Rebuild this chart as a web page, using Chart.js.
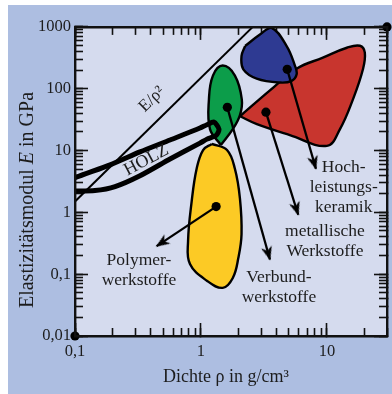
<!DOCTYPE html>
<html lang="de">
<head>
<meta charset="utf-8">
<title>Elastizitätsmodul über Dichte</title>
<script src="https://cdn.jsdelivr.net/npm/chart.js@4.4.1/dist/chart.umd.min.js"></script>
<style>
  html, body { margin: 0; padding: 0; background: #ffffff; }
  canvas { display: block; }
</style>
</head>
<body>
<canvas id="ashby" width="392" height="394"></canvas>
<script>
// Axis ranges and labelled ticks
const densityRange = [0.1, 30];
const modulusRange = [0.01, 1000];
const densityTicks = [0.1, 1, 10];
const densityTickLabels = ['0,1', '1', '10'];
const modulusTicks = [0.01, 0.1, 1, 10, 100, 1000];
const modulusTickLabels = ['0,01', '0,1', '1', '10', '100', '1000'];

// Material fields as closed outlines: [density in g/cm³, modulus in GPa]
const keramikField = [[2.24, 490], [2.94, 752], [3.64, 964], [4.79, 490], [5.57, 237], [5.75, 171],
  [5.25, 134], [4.24, 126], [2.77, 146], [2.17, 206], [2.10, 339], [2.24, 490]];
const metallField = [[2.04, 35.9], [3.53, 94], [5.78, 212], [9.29, 318], [14.4, 460], [18.3, 495],
  [20.0, 383], [19.3, 204], [16.1, 67.3], [12.7, 22.2], [10.0, 11.9], [5.08, 17.8], [2.78, 26.7], [2.04, 35.9]];
const verbundField = [[1.44, 12.3], [1.18, 22.2], [1.157, 67.3], [1.245, 163], [1.49, 237], [1.86, 163],
  [2.11, 67.3], [2.04, 37.3], [1.79, 22.2], [1.44, 12.3]];
const polymerField = [[1.22, 12.8], [1.61, 10.2], [1.86, 5.07], [2.04, 1.67], [2.10, 0.442], [1.98, 0.182],
  [1.79, 0.0869], [1.49, 0.0601], [1.12, 0.0778], [0.818, 0.146], [0.79, 0.341], [0.844, 1.50],
  [0.924, 5.07], [1.04, 10.2], [1.22, 12.8]];
// Wood: an open loop whose low-density end runs off the axis
const holzOutline = [[0.076, 2.81], [0.1, 3.63], [0.19, 5.87], [0.328, 9.5], [0.568, 14.8], [0.982, 23.1],
  [1.116, 26.2], [1.268, 28.8], [1.39, 22.2], [1.327, 17.8], [1.116, 15.3], [0.982, 13.2], [0.568, 7.3],
  [0.328, 3.91], [0.208, 2.61], [0.144, 2.25], [0.1, 2.21], [0.076, 2.21]];

// Representative point of each field and where its pointer ends
const keramikPointer = [[4.84, 206], [8.18, 5.07]];
const metallPointer = [[3.28, 41.7], [5.92, 0.915]];
const verbundPointer = [[1.62, 50], [3.53, 0.173]];
const polymerPointer = [[1.32, 1.24], [0.445, 0.284]];

// Guide line of constant E/ρ²
const guideLine = [[0.1, 1.5], [2.58, 1000]];

// Markers on two frame corners
const cornerMarks = [[0.1, 0.01], [30, 1000]];

const SERIF = '"Liberation Serif", "Times New Roman", serif';
const INK = '#1c1c1c';
const PANEL = '#adbee1';
const PLOT_BG = '#d5dbee';

// log sub-ticks 1..9 x 10^n inside a range
function logSubTicks(min, max) {
  const out = [];
  for (let e = Math.floor(Math.log10(min)); e <= Math.ceil(Math.log10(max)); e++) {
    for (let m = 1; m <= 9; m++) {
      const v = m * Math.pow(10, e);
      if (v >= min * 0.999 && v <= max * 1.001) out.push(v);
    }
  }
  return out;
}
const densityMinor = logSubTicks(densityRange[0], densityRange[1]);
const modulusMinor = logSubTicks(modulusRange[0], modulusRange[1]);

// Arrowhead sprite, tip at the sprite centre, pointing up
const ARROWHEAD = (() => {
  const c = document.createElement('canvas');
  c.width = 32; c.height = 32;
  const g = c.getContext('2d');
  g.fillStyle = '#000';
  g.beginPath();
  g.moveTo(16, 15);
  g.lineTo(21.5, 29);
  g.lineTo(16, 25);
  g.lineTo(10.5, 29);
  g.closePath();
  g.fill();
  return c;
})();

const pts = arr => arr.map(([x, y]) => ({ x, y }));

function field(label, outline, color, order) {
  return {
    label, data: pts(outline), order,
    borderColor: '#000', borderWidth: 2.4, borderJoinStyle: 'round',
    backgroundColor: color, fill: 'shape', tension: 0.4, pointRadius: 0
  };
}

function headRotation(ctx) {
  if (ctx.type !== 'data' || ctx.dataIndex !== 1) return 0;
  const xs = ctx.chart.scales.x, ys = ctx.chart.scales.y;
  const [a, b] = ctx.dataset.data;
  const dx = xs.getPixelForValue(b.x) - xs.getPixelForValue(a.x);
  const dy = ys.getPixelForValue(b.y) - ys.getPixelForValue(a.y);
  return Math.atan2(dx, -dy) * 180 / Math.PI;
}

function pointer(label, pair) {
  return {
    label, data: pts(pair), order: 0,
    borderColor: '#000', borderWidth: 2.3, fill: false, tension: 0,
    pointRadius: [4.6, 10], pointStyle: ['circle', ARROWHEAD],
    pointBackgroundColor: '#000', pointBorderWidth: 0,
    pointRotation: headRotation
  };
}

// Tick-only edge axes; sized ones sit outermost, zero-sized ones hug the plot
function edgeScale(axis, position, values, tickLen, size, weight, extra) {
  const horizontal = axis === 'x';
  const range = horizontal ? densityRange : modulusRange;
  return Object.assign({
    type: 'logarithmic', axis, position, weight,
    min: range[0], max: range[1],
    grid: { display: true, drawOnChartArea: false, drawTicks: true, tickLength: -tickLen,
            tickColor: '#111', tickWidth: 1.6 },
    border: { display: false },
    ticks: { display: false, autoSkip: false },
    afterBuildTicks: s => { s.ticks = values.map(v => ({ value: v })); },
    afterFit: s => { if (horizontal) s.height = size; else s.width = size; }
  }, extra || {});
}
const frame = { display: true, color: '#111', width: 2.4, z: 1 };
const tickFont = { family: SERIF, size: 16.5 };

const fieldLabels = [
  { lines: ['Hoch-', 'leistungs-', 'keramik'], at: [13.6, 4.54] },
  { lines: ['metallische', 'Werkstoffe'], at: [9.64, 0.41] },
  { lines: ['Verbund-', 'werkstoffe'], at: [4.16, 0.075] },
  { lines: ['Polymer-', 'werkstoffe'], at: [0.322, 0.141] }
];

const backdrop = {
  id: 'backdrop',
  beforeDraw(chart) {
    const { ctx, chartArea: a } = chart;
    ctx.save();
    ctx.fillStyle = '#ffffff';
    ctx.fillRect(0, 0, chart.width, chart.height);
    ctx.fillStyle = PANEL;
    ctx.fillRect(8, 5, chart.width - 8, chart.height - 5);
    ctx.fillStyle = PLOT_BG;
    ctx.fillRect(a.left, a.top, a.right - a.left, a.bottom - a.top);
    ctx.restore();
  }
};

const annotations = {
  id: 'annotations',
  afterDatasetsDraw(chart) {
    const { ctx } = chart;
    const xs = chart.scales.x, ys = chart.scales.y;
    ctx.save();
    ctx.fillStyle = INK;
    ctx.font = `17.5px ${SERIF}`;
    ctx.textAlign = 'center';
    ctx.textBaseline = 'alphabetic';
    for (const f of fieldLabels) {
      const px = xs.getPixelForValue(f.at[0]);
      const py = ys.getPixelForValue(f.at[1]);
      f.lines.forEach((t, i) => ctx.fillText(t, px, py + i * 20));
    }
    // guide line caption, parallel to the line
    const g0x = xs.getPixelForValue(guideLine[0][0]), g0y = ys.getPixelForValue(guideLine[0][1]);
    const g1x = xs.getPixelForValue(guideLine[1][0]), g1y = ys.getPixelForValue(guideLine[1][1]);
    const ang = Math.atan2(g1y - g0y, g1x - g0x);
    ctx.textBaseline = 'middle';
    ctx.save();
    ctx.translate(xs.getPixelForValue(0.408), ys.getPixelForValue(67.3));
    ctx.rotate(ang);
    ctx.font = `17px ${SERIF}`;
    ctx.fillText('E/ρ²', 0, 0);
    ctx.restore();
    ctx.save();
    ctx.translate(xs.getPixelForValue(0.369), ys.getPixelForValue(6.98));
    ctx.rotate(-28 * Math.PI / 180);
    ctx.font = `18px ${SERIF}`;
    ctx.fillText('HOLZ', 0, 0);
    ctx.restore();
    ctx.restore();
  },
  afterDraw(chart) {
    const { ctx } = chart;
    ctx.save();
    ctx.fillStyle = INK;
    ctx.textBaseline = 'middle';
    ctx.textAlign = 'center';
    ctx.font = `18px ${SERIF}`;
    ctx.fillText('Dichte ρ in g/cm³', 226, 377);
    // vertical title with italic symbol
    const parts = [['Elastizitätsmodul ', ''], ['E', 'italic '], [' in GPa', '']];
    const size = 20;
    let total = 0;
    for (const [t, s] of parts) { ctx.font = `${s}${size}px ${SERIF}`; total += ctx.measureText(t).width; }
    ctx.translate(28, 200);
    ctx.rotate(-Math.PI / 2);
    ctx.textAlign = 'left';
    let x = -total / 2;
    for (const [t, s] of parts) {
      ctx.font = `${s}${size}px ${SERIF}`;
      ctx.fillText(t, x, 0);
      x += ctx.measureText(t).width;
    }
    ctx.restore();
  }
};

new Chart(document.getElementById('ashby'), {
  type: 'line',
  data: {
    datasets: [
      pointer('Hochleistungskeramik', keramikPointer),
      pointer('metallische Werkstoffe', metallPointer),
      pointer('Verbundwerkstoffe', verbundPointer),
      pointer('Polymerwerkstoffe', polymerPointer),
      {
        label: 'Ecken', data: pts(cornerMarks), order: 0, showLine: false, clip: false,
        pointRadius: 4.6, pointBackgroundColor: '#000', pointBorderWidth: 0
      },
      {
        label: 'HOLZ', data: pts(holzOutline), order: 1, clip: 0,
        borderColor: '#000', borderWidth: 5, borderJoinStyle: 'round', fill: false,
        tension: 0.25, pointRadius: 0
      },
      {
        label: 'E/ρ²', data: pts(guideLine), order: 2, clip: 0,
        borderColor: '#000', borderWidth: 2, fill: false, tension: 0, pointRadius: 0
      },
      field('Hochleistungskeramik', keramikField, '#2e3a92', 3),
      field('Verbundwerkstoffe', verbundField, '#0c9d4a', 4),
      field('metallische Werkstoffe', metallField, '#c8352e', 5),
      field('Polymerwerkstoffe', polymerField, '#fcca25', 6)
    ]
  },
  options: {
    responsive: false,
    devicePixelRatio: 1,
    animation: false,
    events: [],
    layout: { padding: 0, autoPadding: false },
    plugins: { legend: { display: false }, tooltip: { enabled: false } },
    scales: {
      x: edgeScale('x', 'bottom', densityTicks, 13, 58, 1, {
        border: frame,
        ticks: { display: true, autoSkip: false, maxRotation: 0, padding: 19, color: INK, font: tickFont,
                 callback: (v, i) => densityTickLabels[i] }
      }),
      xMinor: edgeScale('x', 'bottom', densityMinor, 8, 0, 0),
      y: edgeScale('y', 'left', modulusTicks, 13, 75, 1, {
        border: frame,
        ticks: { display: true, autoSkip: false, padding: 17, color: INK, font: tickFont,
                 callback: (v, i) => modulusTickLabels[i] }
      }),
      yMinor: edgeScale('y', 'left', modulusMinor, 8, 0, 0),
      xTop: edgeScale('x', 'top', densityMinor, 8, 24, 1, { border: frame }),
      xTopMajor: edgeScale('x', 'top', densityTicks, 13, 0, 0),
      yRight: edgeScale('y', 'right', modulusMinor, 8, 5, 1, { border: frame }),
      yRightMajor: edgeScale('y', 'right', modulusTicks, 13, 0, 0)
    }
  },
  plugins: [backdrop, annotations]
});
</script>
</body>
</html>
